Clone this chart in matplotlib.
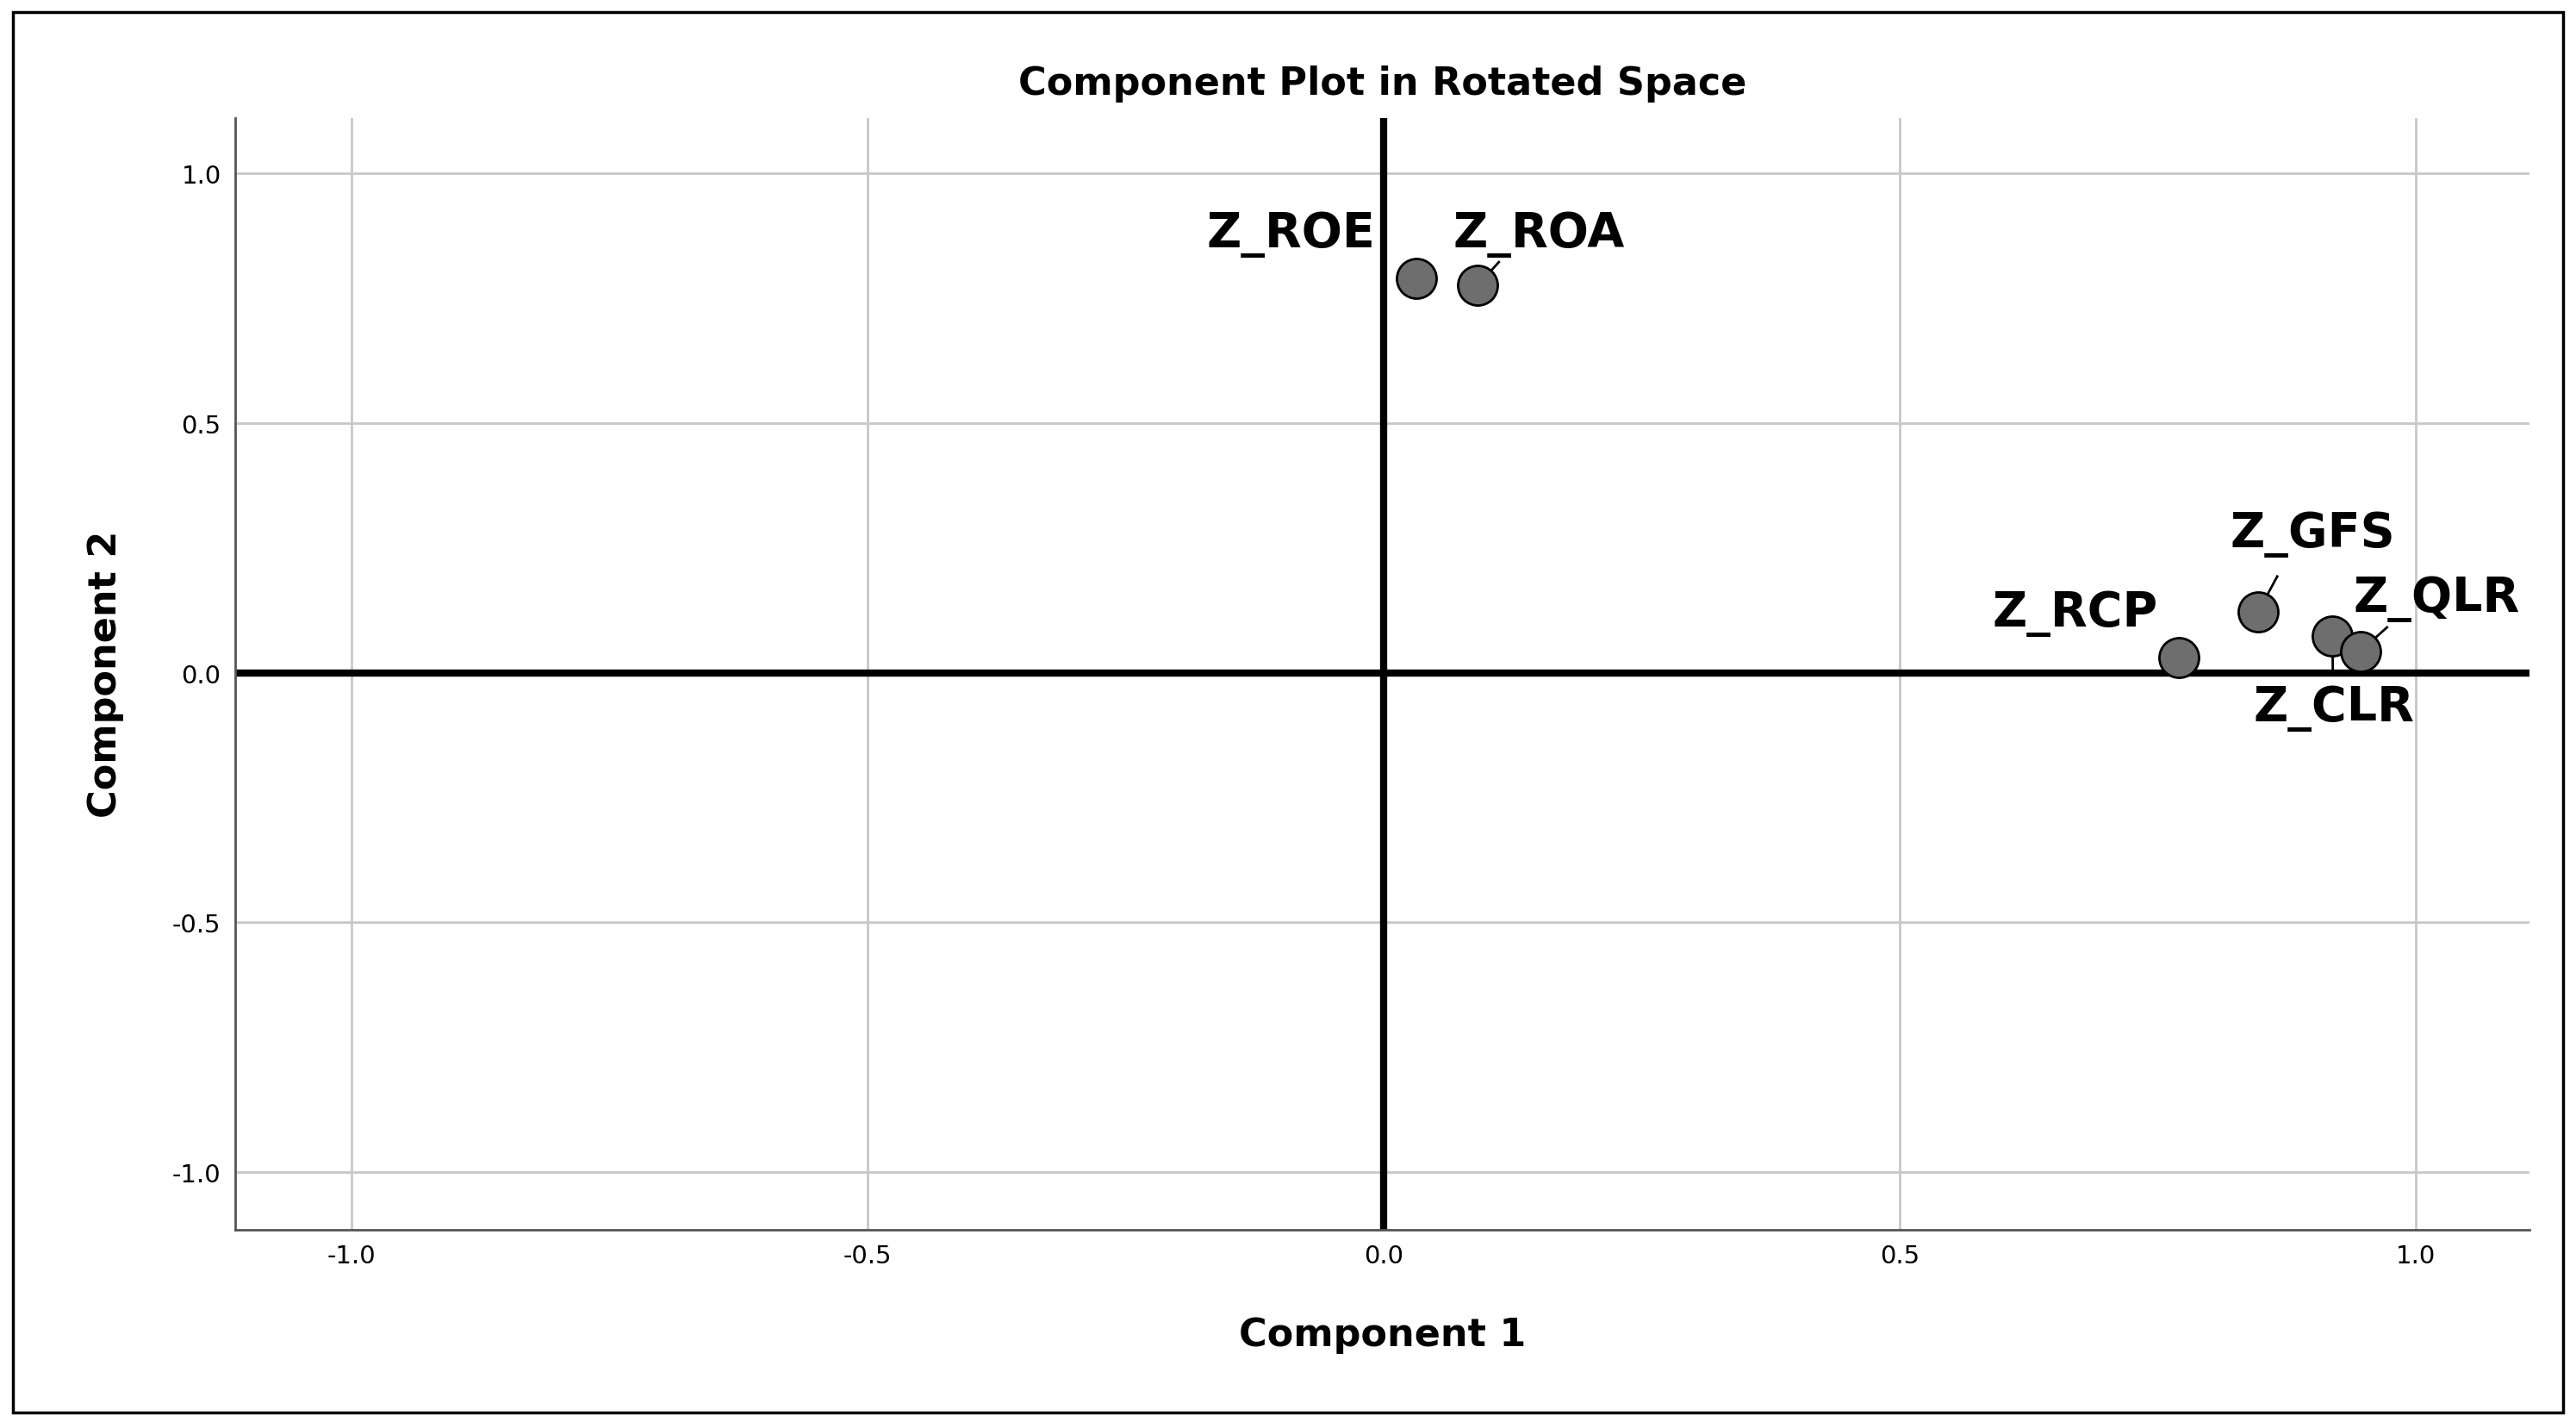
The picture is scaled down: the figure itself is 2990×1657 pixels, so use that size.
import matplotlib.pyplot as plt
from matplotlib.patches import Rectangle

names = ['Z_ROE', 'Z_ROA', 'Z_RCP', 'Z_GFS', 'Z_CLR', 'Z_QLR']
comp1 = [0.032, 0.091, 0.770, 0.847, 0.919, 0.946]
comp2 = [0.790, 0.776, 0.030, 0.122, 0.073, 0.043]
# label anchor (text position) in data units
label_pos = {
    'Z_ROE': (-0.09, 0.88),
    'Z_ROA': (0.15, 0.88),
    'Z_RCP': (0.67, 0.12),
    'Z_GFS': (0.90, 0.28),
    'Z_CLR': (0.92, -0.07),
    'Z_QLR': (1.02, 0.15),
}
leaders = {'Z_ROA', 'Z_GFS', 'Z_CLR', 'Z_QLR'}

fig = plt.figure(figsize=(29.9, 16.58), dpi=100)
ax = fig.add_axes([0.0914, 0.139, 0.8906, 0.778])
fig.patches.append(Rectangle((0.005, 0.011), 0.99, 0.98, transform=fig.transFigure,
                             fill=False, ec='black', lw=2.5))

ax.set_xlim(-1.112, 1.110)
ax.set_ylim(-1.115, 1.112)
ticks = [-1.0, -0.5, 0.0, 0.5, 1.0]
ax.set_xticks(ticks)
ax.set_yticks(ticks)
ax.set_xticklabels(['-1.0', '-0.5', '0.0', '0.5', '1.0'])
ax.set_yticklabels(['-1.0', '-0.5', '0.0', '0.5', '1.0'])
ax.grid(True, color='#c8c8c8', lw=2)
ax.set_axisbelow(True)
ax.axhline(0, color='black', lw=6, zorder=2)
ax.axvline(0, color='black', lw=6, zorder=2)
for s in ['top', 'right']:
    ax.spines[s].set_visible(False)
for s in ['left', 'bottom']:
    ax.spines[s].set_color('#555555')
    ax.spines[s].set_linewidth(2)
ax.tick_params(length=0, labelsize=21, pad=12)

ax.scatter(comp1, comp2, s=1100, c='#6e6e6e', edgecolors='black', linewidths=2, zorder=4)
for n, x, y in zip(names, comp1, comp2):
    tx, ty = label_pos[n]
    ax.text(tx, ty, n, fontsize=40, fontweight='bold', ha='center', va='center', zorder=5)
    if n in leaders:
        ex = x + (tx - x) * 0.35
        ey = y + (ty - y) * 0.45
        ax.plot([x, ex], [y, ey], color='black', lw=2, zorder=3)

ax.set_title('Component Plot in Rotated Space', fontsize=32, fontweight='bold', pad=20)
ax.set_xlabel('Component 1', fontsize=32, fontweight='bold', labelpad=40)
ax.set_ylabel('Component 2', fontsize=32, fontweight='bold', labelpad=40)

fig.savefig('out.png', dpi=100)
